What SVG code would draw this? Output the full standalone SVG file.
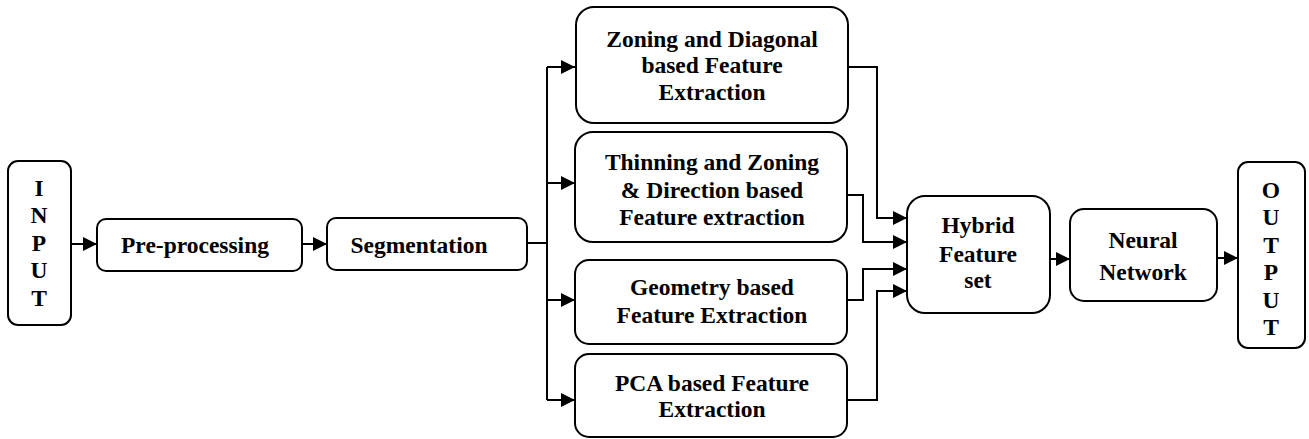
<svg xmlns="http://www.w3.org/2000/svg" width="1309" height="439" viewBox="0 0 1309 439">
<style>
.box{fill:#fff;stroke:#000;stroke-width:2}
.t{font-family:"Liberation Serif","Times New Roman",serif;font-weight:bold;font-size:23.5px;fill:#000;text-anchor:middle}
.c{fill:none;stroke:#000;stroke-width:2}
</style>
<defs>
<marker id="ah" markerUnits="userSpaceOnUse" markerWidth="15" markerHeight="15" refX="14" refY="7" orient="auto">
<path d="M0,0 L14,7 L0,14 z" fill="#000"/>
</marker>
</defs>
<g id="connectors">
<path class="c" d="M71,244 H97" marker-end="url(#ah)"/>
<path class="c" d="M302,244 H327" marker-end="url(#ah)"/>
<path class="c" d="M527,243 H547"/>
<path class="c" d="M547,67 V400"/>
<path class="c" d="M547,67 H575" marker-end="url(#ah)"/>
<path class="c" d="M547,183 H575" marker-end="url(#ah)"/>
<path class="c" d="M547,300 H575" marker-end="url(#ah)"/>
<path class="c" d="M547,400 H575" marker-end="url(#ah)"/>
<path class="c" d="M848,67 H877 V218 H907" marker-end="url(#ah)"/>
<path class="c" d="M847,195 H863 V242 H907" marker-end="url(#ah)"/>
<path class="c" d="M847,300 H863 V269 H907" marker-end="url(#ah)"/>
<path class="c" d="M847,400 H877 V291 H907" marker-end="url(#ah)"/>
<path class="c" d="M1050,259 H1070" marker-end="url(#ah)"/>
<path class="c" d="M1217,258 H1238" marker-end="url(#ah)"/>
</g>
<g id="input">
<rect class="box" x="8" y="161" width="63" height="164" rx="10"/>
<text class="t" x="39" y="196">I</text>
<text class="t" x="39" y="223">N</text>
<text class="t" x="39" y="251">P</text>
<text class="t" x="39" y="278">U</text>
<text class="t" x="39" y="306">T</text>
</g>
<g id="preprocessing">
<rect class="box" x="97" y="219" width="205" height="52" rx="9"/>
<text class="t" x="195" y="253">Pre-processing</text>
</g>
<g id="segmentation">
<rect class="box" x="327" y="218" width="200" height="52" rx="9"/>
<text class="t" x="419" y="253">Segmentation</text>
</g>
<g id="zoning">
<rect class="box" x="576" y="7" width="272" height="116" rx="18"/>
<text class="t" x="712" y="47">Zoning and Diagonal</text>
<text class="t" x="712" y="73">based Feature</text>
<text class="t" x="712" y="100">Extraction</text>
</g>
<g id="thinning">
<rect class="box" x="575" y="132" width="272" height="110" rx="18"/>
<text class="t" x="712" y="170">Thinning and Zoning</text>
<text class="t" x="712" y="198">&amp; Direction based</text>
<text class="t" x="712" y="225">Feature extraction</text>
</g>
<g id="geometry">
<rect class="box" x="575" y="260" width="272" height="84" rx="14"/>
<text class="t" x="712" y="295">Geometry based</text>
<text class="t" x="712" y="323">Feature Extraction</text>
</g>
<g id="pca">
<rect class="box" x="575" y="354" width="272" height="83" rx="14"/>
<text class="t" x="712" y="391">PCA based Feature</text>
<text class="t" x="712" y="417">Extraction</text>
</g>
<g id="hybrid">
<rect class="box" x="907" y="196" width="143" height="117" rx="18"/>
<text class="t" x="978" y="233">Hybrid</text>
<text class="t" x="978" y="262">Feature</text>
<text class="t" x="978" y="288">set</text>
</g>
<g id="neural">
<rect class="box" x="1070" y="209" width="147" height="92" rx="14"/>
<text class="t" x="1143" y="248">Neural</text>
<text class="t" x="1143" y="280">Network</text>
</g>
<g id="output">
<rect class="box" x="1238" y="162" width="67" height="186" rx="10"/>
<text class="t" x="1271" y="198">O</text>
<text class="t" x="1271" y="225">U</text>
<text class="t" x="1271" y="253">T</text>
<text class="t" x="1271" y="280">P</text>
<text class="t" x="1271" y="308">U</text>
<text class="t" x="1271" y="335">T</text>
</g>
</svg>
